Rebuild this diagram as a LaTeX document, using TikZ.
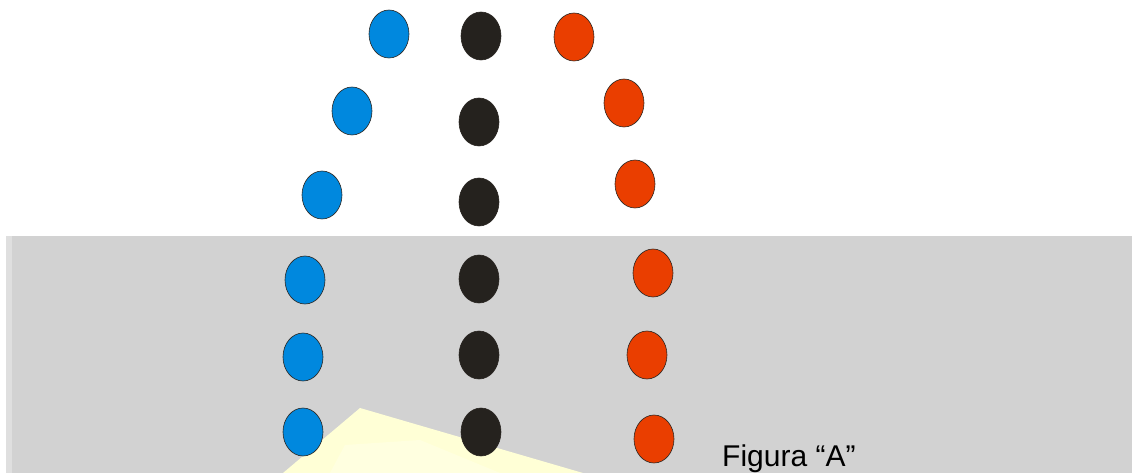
\documentclass[tikz,border=0pt]{standalone}
\usepackage{fontspec}
\setmainfont{Liberation Sans}
\usetikzlibrary{shapes.geometric}
\definecolor{bgray}{HTML}{D2D2D2}
\definecolor{ylw}{HTML}{FFFFD6}
\definecolor{ylwin}{HTML}{FFFFE0}
\definecolor{cblue}{HTML}{0088DE}
\definecolor{cblack}{HTML}{25221E}
\definecolor{cred}{HTML}{EA3E00}
\definecolor{edge}{HTML}{2A2622}
\tikzset{
  dot/.style={ellipse, draw=edge, line width=0.6pt, inner sep=0pt, minimum width=40pt, minimum height=48pt},
  bdot/.style={dot, fill=cblue},
  kdot/.style={dot, fill=cblack},
  rdot/.style={dot, fill=cred},
  lbl/.style={font=\fontsize{30}{33}\selectfont, inner sep=0pt, anchor=base west}
}
\begin{document}
\begin{tikzpicture}[x=1pt,y=-1pt]
\useasboundingbox (0,0) rectangle (1132,473);
\fill[white] (0,0) rectangle (1132,473);
\fill[bgray] (6,236) rectangle (1132,473);
\fill[bgray!70!white] (6,236) rectangle (12,473);
\fill[ylw] (283,473) -- (360,408) -- (583,473) -- cycle;
\fill[ylwin] (330,473) -- (345,445) -- (420,440) -- (500,473) -- cycle;
% blue column
\node[bdot] (b1) at (389,34) {};
\node[bdot] (b2) at (352,111) {};
\node[bdot] (b3) at (322,195) {};
\node[bdot] (b4) at (305,280) {};
\node[bdot] (b5) at (303,357) {};
\node[bdot] (b6) at (303,432) {};
% black column
\node[kdot] (k1) at (481,36) {};
\node[kdot] (k2) at (479,122) {};
\node[kdot] (k3) at (479,202) {};
\node[kdot] (k4) at (479,279) {};
\node[kdot] (k5) at (479,355) {};
\node[kdot] (k6) at (481,432) {};
% red column
\node[rdot] (r1) at (574,37) {};
\node[rdot] (r2) at (624,103) {};
\node[rdot] (r3) at (635,184) {};
\node[rdot] (r4) at (653,273) {};
\node[rdot] (r5) at (647,355) {};
\node[rdot] (r6) at (654,439) {};
\node[lbl] (fig) at (722,466) {Figura “A”};
\end{tikzpicture}
\end{document}
